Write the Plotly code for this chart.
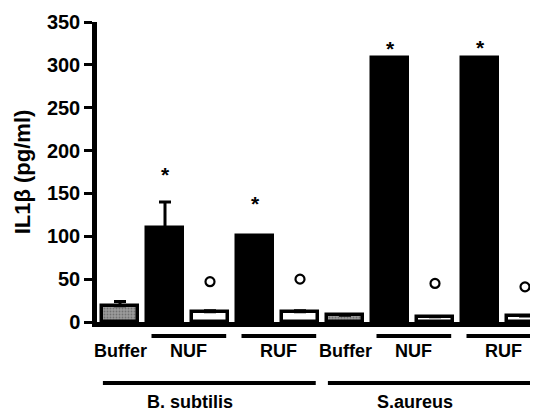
import plotly.graph_objects as go

# ---- data ----
bar_ids = ["Bs-Buffer", "Bs-NUF-a", "Bs-NUF-b", "Bs-RUF-a", "Bs-RUF-b",
           "Sa-Buffer", "Sa-NUF-a", "Sa-NUF-b", "Sa-RUF-a", "Sa-RUF-b"]
values = [19, 110, 12, 100, 12, 8, 308, 6, 308, 7]
errors = [5, 30, 1, 0.5, 1, 0, 0, 0, 0, 0]
bar_kind = ["buffer", "black", "open", "black", "open",
            "buffer", "black", "open", "black", "open"]

star_bars = ["Bs-NUF-a", "Bs-RUF-a", "Sa-NUF-a", "Sa-RUF-a"]
star_y = [170, 136, 316, 318]
circle_bars = ["Bs-NUF-b", "Bs-RUF-b", "Sa-NUF-b", "Sa-RUF-b"]
circle_y = [47, 50, 45, 41]

treat_labels = ["Buffer", "NUF", "RUF", "Buffer", "NUF", "RUF"]
treat_first = [0, 1, 3, 5, 6, 8]      # first bar index of each treatment
treat_n = [1, 2, 2, 1, 2, 2]
group_labels = ["B. subtilis", "S.aureus"]
group_first = [0, 5]
group_n = [5, 5]

y_ticks = [0, 50, 100, 150, 200, 250, 300, 350]

# ---- styles ----
fill = {"buffer": "#9c9c9c", "black": "black", "open": "white"}
pattern = {"buffer": ".", "black": "", "open": ""}
FONT = "Liberation Sans, Arial, sans-serif"

fig = go.Figure()
fig.add_trace(go.Bar(
    x=bar_ids, y=values, width=0.78,
    marker=dict(color=[fill[k] for k in bar_kind],
                line=dict(color="black", width=3.5),
                pattern=dict(shape=[pattern[k] for k in bar_kind],
                             fgcolor="white", size=3, solidity=0.3)),
    error_y=dict(type="data", array=errors, arrayminus=[0] * len(errors),
                 symmetric=False, color="black", thickness=3, width=6),
    showlegend=False,
))
fig.add_trace(go.Scatter(
    x=star_bars, y=star_y, mode="text", text=["*"] * len(star_bars),
    textfont=dict(family=FONT, size=21, color="black", weight="bold"),
    showlegend=False, cliponaxis=False,
))
fig.add_trace(go.Scatter(
    x=circle_bars, y=circle_y, mode="markers",
    marker=dict(symbol="circle-open", size=9, color="black",
                line=dict(width=2.2, color="black")),
    showlegend=False, cliponaxis=False,
))

shapes = []
annotations = []
for lab, f, n in zip(treat_labels, treat_first, treat_n):
    center = f + (n - 1) / 2
    if n > 1:
        shapes.append(dict(type="line", xref="x", yref="paper",
                           x0=f - 0.3, x1=f + n - 1 + 0.36, y0=-0.047, y1=-0.047,
                           line=dict(color="black", width=4)))
        center += 0.03
    annotations.append(dict(x=center, y=-0.097, xref="x", yref="paper",
                            text=lab, showarrow=False, yanchor="middle",
                            font=dict(family=FONT, size=18, color="black", weight="bold")))
for lab, f, n in zip(group_labels, group_first, group_n):
    shapes.append(dict(type="line", xref="x", yref="paper",
                       x0=f - 0.38, x1=f + n - 1 + 0.35, y0=-0.203, y1=-0.203,
                       line=dict(color="black", width=4)))
    annotations.append(dict(x=f + 1.55, y=-0.267, xref="x", yref="paper",
                            text=lab, showarrow=False, yanchor="middle",
                            font=dict(family=FONT, size=18, color="black", weight="bold")))

# the page body adds an 8px offset, so the figure is sized to the remaining window
fig.update_layout(
    width=530, height=404,
    margin=dict(l=89, r=0, t=14, b=90),
    plot_bgcolor="white", paper_bgcolor="white",
    shapes=shapes, annotations=annotations,
    bargap=0,
)
fig.update_xaxes(
    type="category", range=[-0.511, 9.289], showticklabels=False, ticks="",
    showline=True, linecolor="black", linewidth=4.5, showgrid=False, zeroline=False,
)
fig.update_yaxes(
    range=[0, 350], tickvals=y_ticks, ticks="outside", ticklen=8, tickwidth=3,
    tickcolor="black", showline=True, linecolor="black", linewidth=4.5,
    showgrid=False, zeroline=False,
    tickfont=dict(family=FONT, size=20, color="black", weight="bold"),
    title=dict(text="IL1β (pg/ml)", standoff=12,
               font=dict(family=FONT, size=22, color="black", weight="bold")),
)

fig.write_html("out.html")
